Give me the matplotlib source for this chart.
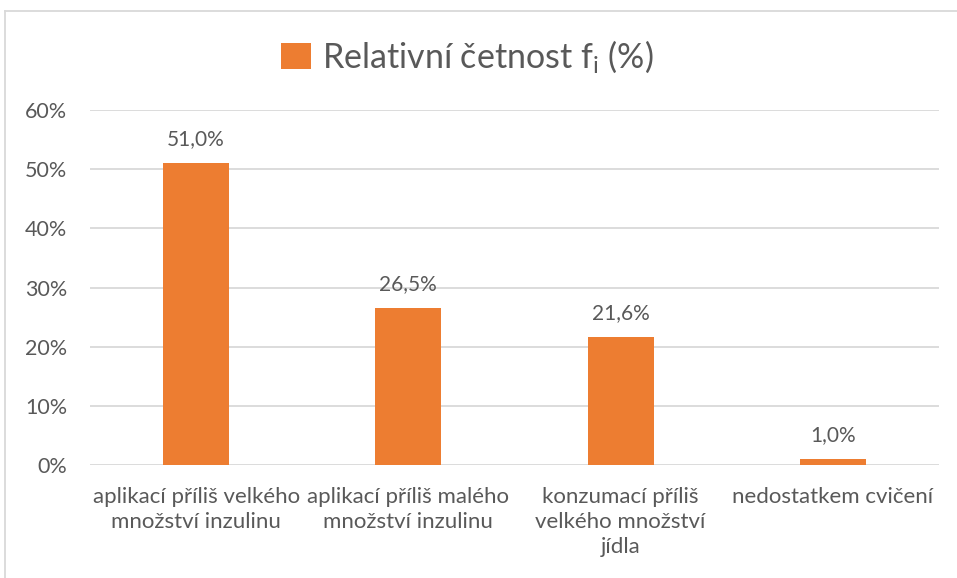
import matplotlib
matplotlib.use("Agg")
import matplotlib.pyplot as plt
from matplotlib.lines import Line2D

categories = [
    "aplikací příliš velkého\nmnožství inzulinu",
    "aplikací příliš malého\nmnožství inzulinu",
    "konzumací příliš\nvelkého množství\njídla",
    "nedostatkem cvičení",
]
values = [51.0, 26.5, 21.6, 1.0]
value_labels = ["51,0%", "26,5%", "21,6%", "1,0%"]
yticks = [0, 10, 20, 30, 40, 50, 60]
ytick_labels = ["0%", "10%", "20%", "30%", "40%", "50%", "60%"]
series_name = "Relativní četnost f$_\\mathrm{i}$ (%)"

ORANGE = "#ED7D31"
TEXT = "#595959"
GRID = "#D9D9D9"

plt.rcParams["font.family"] = ["Lato", "DejaVu Sans"]
plt.rcParams["mathtext.fontset"] = "custom"
plt.rcParams["mathtext.rm"] = "Lato"
plt.rcParams["mathtext.it"] = "Lato"

W, H = 957, 578
fig = plt.figure(figsize=(W / 100, H / 100), dpi=100)
ax = fig.add_axes([90 / W, 1 - 465 / H, (939 - 90) / W, (465 - 110) / H])

x = list(range(len(categories)))
bars = ax.bar(x, values, width=0.31, color=ORANGE, label=series_name, zorder=3)

ax.set_xlim(-0.5, len(categories) - 0.5)
ax.set_ylim(0, 60)
ax.set_yticks(yticks)
ax.set_yticklabels(ytick_labels, fontsize=15.5)
ax.set_xticks(x)
ax.set_xticklabels(categories, linespacing=1.32, fontsize=16)
ax.tick_params(axis="both", length=0, colors=TEXT)
ax.tick_params(axis="y", pad=16.5)
ax.tick_params(axis="x", pad=16)
ax.grid(axis="y", color=GRID, linewidth=1.3, zorder=0)
for s in ax.spines.values():
    s.set_visible(False)

for xi, v, lab in zip(x, values, value_labels):
    ax.annotate(lab, (xi, v), xytext=(0, 13), textcoords="offset points",
                ha="center", va="baseline", color=TEXT, fontsize=15)

fig.legend(handles=[bars], labels=[series_name], loc="center",
           bbox_to_anchor=(467 / W, 1 - 57 / H), frameon=False,
           fontsize=24.5, labelcolor=TEXT, handlelength=0.9, handleheight=0.8,
           handletextpad=0.3)

fig.add_artist(Line2D([4.5 / W, 1.0], [1 - 10.5 / H, 1 - 10.5 / H],
                      color=GRID, linewidth=1.3, transform=fig.transFigure))
fig.add_artist(Line2D([4.5 / W, 4.5 / W], [0, 1 - 10.5 / H],
                      color=GRID, linewidth=1.3, transform=fig.transFigure))

fig.savefig("out.png", dpi=100)
